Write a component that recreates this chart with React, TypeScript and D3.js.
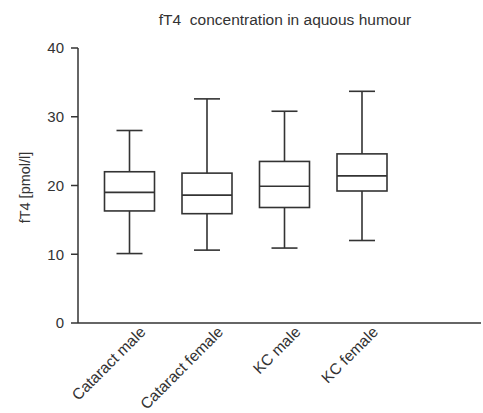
import React from "react";
import * as d3 from "d3";

const categories = ["Cataract male", "Cataract female", "KC male", "KC female"];
const whiskerLow = [10.1, 10.6, 10.9, 12.0];
const q1 = [16.3, 15.9, 16.8, 19.2];
const median = [19.0, 18.6, 19.9, 21.4];
const q3 = [22.0, 21.8, 23.5, 24.6];
const whiskerHigh = [28.0, 32.6, 30.8, 33.7];
const yTicks = [0, 10, 20, 30, 40];
const title = "fT4  concentration in aquous humour";
const yTitle = "fT4 [pmol/l]";

const W = 483;
const H = 413;
const axisX = 78;
const axisEnd = 481;
const ink = "#333";
const font = "Liberation Sans, Arial, sans-serif";

export default function App() {
  const y = d3.scaleLinear().domain([0, 40]).range([323, 48]);
  const x = d3.scalePoint<string>().domain(categories).range([129.5, 362]);
  const boxW = 50;
  const capW = 26;

  return (
    <svg
      width={W}
      height={H}
      style={{ position: "absolute", left: 0, top: 0, background: "#fff" }}
      fontFamily={font}
    >
      <rect width={W} height={H} fill="#fff" />
      <text
        x={285}
        y={25}
        textAnchor="middle"
        fontSize={15.5}
        fill={ink}
        style={{ whiteSpace: "pre" }}
      >
        {title}
      </text>
      {/* y axis */}
      <line x1={axisX} x2={axisX} y1={y(40)} y2={y(0)} stroke={ink} strokeWidth={1.5} />
      {yTicks.map((t) => (
        <g key={t}>
          <line x1={axisX - 7} x2={axisX} y1={y(t)} y2={y(t)} stroke={ink} strokeWidth={1.5} />
          <text
            x={axisX - 14}
            y={y(t)}
            dy="0.36em"
            textAnchor="end"
            fontSize={15}
            fill={ink}
          >
            {t}
          </text>
        </g>
      ))}
      <text
        transform={`translate(30,${(y(40) + y(0)) / 2 + 2}) rotate(-90)`}
        textAnchor="middle"
        fontSize={14.5}
        fill={ink}
      >
        {yTitle}
      </text>
      {/* x axis */}
      <line x1={axisX} x2={axisEnd} y1={y(0)} y2={y(0)} stroke={ink} strokeWidth={1.5} />
      {categories.map((c) => (
        <text
          key={c}
          transform={`translate(${(x(c) as number) + 17},${333}) rotate(-45)`}
          textAnchor="end"
          fontSize={15.5}
          fill={ink}
        >
          {c}
        </text>
      ))}
      {/* boxes */}
      {categories.map((c, i) => {
        const cx = x(c) as number;
        return (
          <g key={c} stroke={ink} strokeWidth={1.6} fill="none">
            <line x1={cx} x2={cx} y1={y(whiskerHigh[i])} y2={y(q3[i])} />
            <line x1={cx} x2={cx} y1={y(q1[i])} y2={y(whiskerLow[i])} />
            <line x1={cx - capW / 2} x2={cx + capW / 2} y1={y(whiskerHigh[i])} y2={y(whiskerHigh[i])} />
            <line x1={cx - capW / 2} x2={cx + capW / 2} y1={y(whiskerLow[i])} y2={y(whiskerLow[i])} />
            <rect x={cx - boxW / 2} y={y(q3[i])} width={boxW} height={y(q1[i]) - y(q3[i])} />
            <line x1={cx - boxW / 2} x2={cx + boxW / 2} y1={y(median[i])} y2={y(median[i])} />
          </g>
        );
      })}
    </svg>
  );
}
